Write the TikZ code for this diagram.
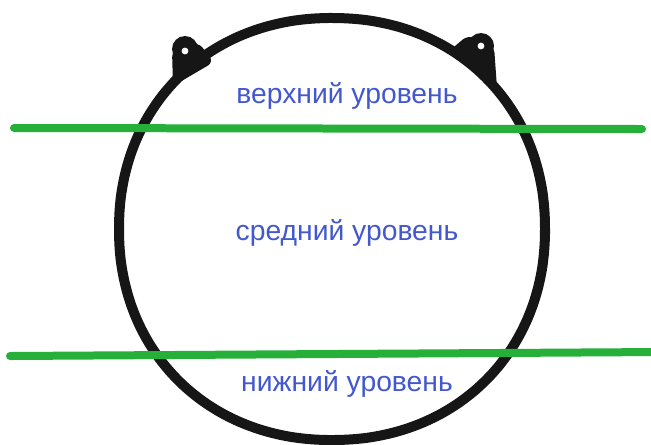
\documentclass[tikz,border=0pt]{standalone}
\usepackage{fontspec}
\setmainfont{Liberation Sans}
\definecolor{hoopblack}{RGB}{22,22,22}
\definecolor{levelgreen}{RGB}{38,176,58}
\definecolor{labelblue}{RGB}{66,88,204}
\begin{document}
\begin{tikzpicture}[x=0.02cm,y=-0.02cm,
    levelline/.style={levelgreen,line width=0.16cm,line cap=round},
    levellabel/.style={labelblue,anchor=base,inner sep=0pt,font=\fontsize{16.1pt}{19pt}\selectfont}]
  \useasboundingbox (0,0) rectangle (651,444);
  % the hoop (a little squarer than an ellipse) and its two hanging tabs
  \draw[hoopblack,line width=0.2cm,smooth,samples=120,domain=0:360]
    plot ({332+213*sign(cos(\x))*pow(abs(cos(\x)),0.95)},{229+211*sign(sin(\x))*pow(abs(sin(\x)),0.95)}) -- cycle;
  \fill[hoopblack,rounded corners=4] (172,50) -- (173,86) -- (214,62) -- (198,42) -- cycle;
  \fill[hoopblack] (185,49) circle (13);
  \fill[white] (185,51) circle (3.4);
  \fill[hoopblack,rounded corners=4] (468,35) -- (448,52) -- (497,88) -- (494,46) -- cycle;
  \fill[hoopblack] (481,46) circle (13);
  \fill[white] (481,46) circle (3.4);
  % the two level lines
  \coordinate (upperleft) at (14,128);
  \coordinate (upperright) at (642,129);
  \coordinate (lowerleft) at (10,356);
  \coordinate (lowerright) at (660,352);
  \draw[levelline] (upperleft) -- (upperright);
  \draw[levelline] (lowerleft) -- (lowerright);
  % labels of the levels
  \node[levellabel] (upper) at (347,103) {верхний уровень};
  \node[levellabel] (middle) at (347,240) {средний уровень};
  \node[levellabel] (lower) at (347,391) {нижний уровень};
\end{tikzpicture}
\end{document}
